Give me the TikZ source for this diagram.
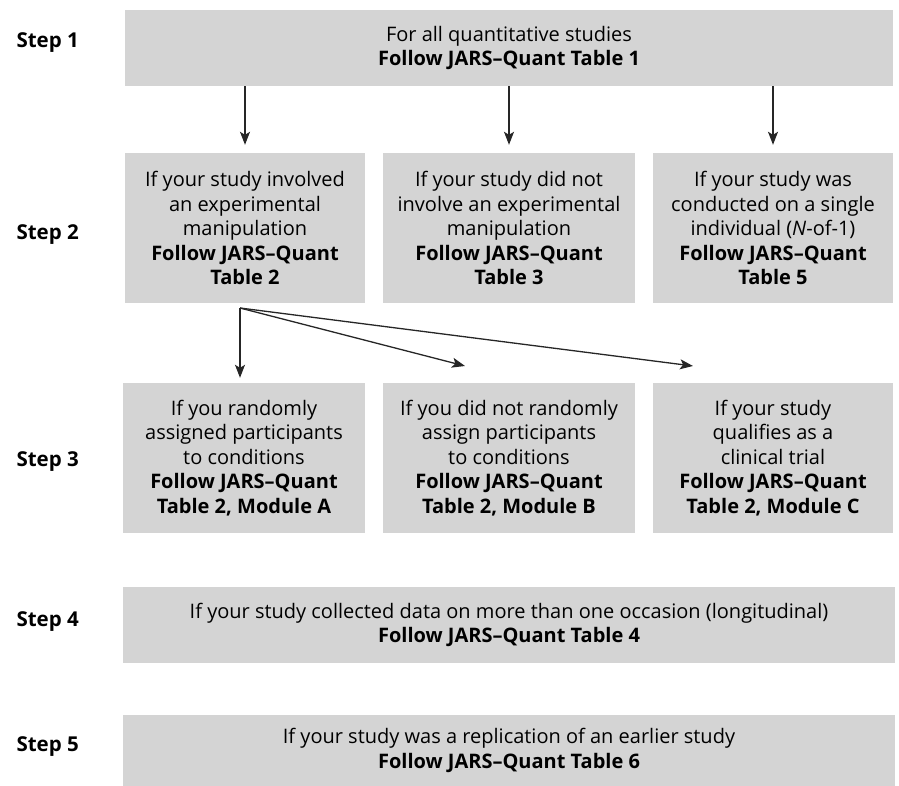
\documentclass[tikz,border=0pt]{standalone}
\usepackage{fontspec}
\setmainfont{Open Sans}
\usetikzlibrary{arrows.meta,calc}
\begin{document}
\begin{tikzpicture}[x=1pt,y=-1pt,
  every node/.style={font=\fontsize{20}{24.5}\selectfont},
  box/.style={fill=black!17, inner sep=0pt, align=center},
  steplbl/.style={font=\fontsize{20.5}{24.5}\selectfont\bfseries, anchor=west},
  arr/.style={-{Stealth[length=13pt,width=10pt,inset=3pt]}, line width=1.3pt, draw=black!85}
]
\useasboundingbox (0,0) rectangle (899,786);
% Step labels
\node[steplbl] (l1) at (13,43) {Step 1};
\node[steplbl] (l2) at (13,235) {Step 2};
\node[steplbl] (l3) at (13,462) {Step 3};
\node[steplbl] (l4) at (13,622) {Step 4};
\node[steplbl] (l5) at (13,747) {Step 5};
% Step 1
\node[box, minimum width=768pt, minimum height=76pt] (s1) at (509,48)
  {For all quantitative studies\\ \textbf{Follow JARS–Quant Table 1}};
% Step 2
\node[box, minimum width=240pt, minimum height=150pt] (s2a) at (245,228)
  {If your study involved\\ an experimental\\ manipulation\\ \textbf{Follow JARS–Quant}\\ \textbf{Table 2}};
\node[box, minimum width=252pt, minimum height=150pt] (s2b) at (509,228)
  {If your study did not\\ involve an experimental\\ manipulation\\ \textbf{Follow JARS–Quant}\\ \textbf{Table 3}};
\node[box, minimum width=240pt, minimum height=150pt] (s2c) at (773,228)
  {If your study was\\ conducted on a single\\ individual (\textit{N}-of-1)\\ \textbf{Follow JARS–Quant}\\ \textbf{Table 5}};
% Step 3
\node[box, minimum width=242pt, minimum height=150pt] (s3a) at (244,458)
  {If you randomly\\ assigned participants\\ to conditions\\ \textbf{Follow JARS–Quant}\\ \textbf{Table 2, Module A}};
\node[box, minimum width=252pt, minimum height=150pt] (s3b) at (509,458)
  {If you did not randomly\\ assign participants\\ to conditions\\ \textbf{Follow JARS–Quant}\\ \textbf{Table 2, Module B}};
\node[box, minimum width=240pt, minimum height=150pt] (s3c) at (773,458)
  {If your study\\ qualifies as a\\ clinical trial\\ \textbf{Follow JARS–Quant}\\ \textbf{Table 2, Module C}};
% Step 4, 5
\node[box, minimum width=772pt, minimum height=76pt] (s4) at (509,625)
  {If your study collected data on more than one occasion (longitudinal)\\ \textbf{Follow JARS–Quant Table 4}};
\node[box, minimum width=772pt, minimum height=71pt] (s5) at (509,750.5)
  {If your study was a replication of an earlier study\\ \textbf{Follow JARS–Quant Table 6}};
% arrows step 1 -> 2
\draw[arr] (s1.south -| s2a.north) -- ([yshift=8pt]s2a.north);
\draw[arr] (s1.south -| s2b.north) -- ([yshift=8pt]s2b.north);
\draw[arr] (s1.south -| s2c.north) -- ([yshift=8pt]s2c.north);
% arrows step 2 -> 3
\coordinate (fork) at (240,308);
\coordinate (tb) at (465,366);
\coordinate (tc) at (693,366);
\draw[arr] (fork) -- ([yshift=5pt]s3a.north -| fork);
\draw[arr] (fork) -- (tb);
\draw[arr] (fork) -- (tc);
\end{tikzpicture}
\end{document}
